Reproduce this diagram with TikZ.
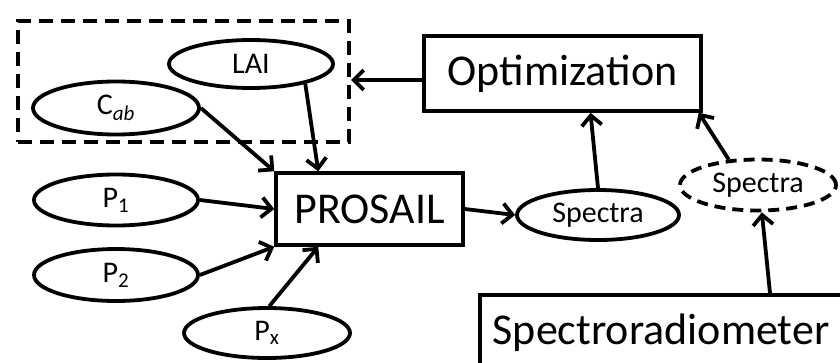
\documentclass[tikz,border=0pt]{standalone}
\usepackage{fontspec}
\setmainfont{Carlito}
\usetikzlibrary{shapes.geometric,arrows.meta}
\tikzset{
  ell/.style={draw, ellipse, line width=3.8pt, inner sep=0pt, font=\fontsize{30}{32}\selectfont},
  dell/.style={ell, dash pattern=on 11pt off 7pt},
  bigbox/.style={draw, rectangle, line width=3.5pt, inner sep=0pt, font=\fontsize{44}{50}\selectfont},
  grpbox/.style={draw, rectangle, line width=4pt, inner sep=0pt, dash pattern=on 14pt off 8pt},
  arr/.style={-{Straight Barb[length=10pt,width=20pt]}, line width=3.8pt},
}
\begin{document}
\begin{tikzpicture}[x=1pt,y=-1pt]
\useasboundingbox (0,0) rectangle (840,362);
\clip (0,0) rectangle (840,362);
% group box
\node[grpbox, minimum width=331pt, minimum height=121pt] (grp) at (183.5,81.5) {};
% ellipses
\node[ell, minimum width=164pt, minimum height=48pt] (lai) at (251,64) {LAI};
\node[ell, minimum width=166pt, minimum height=53pt] (cab) at (116,108) {C\textsubscript{\textit{ab}}};
\node[ell, minimum width=164pt, minimum height=51pt] (p1) at (116,200) {P\textsubscript{1}};
\node[ell, minimum width=164pt, minimum height=52pt] (p2) at (116,275) {P\textsubscript{2}};
\node[ell, minimum width=166pt, minimum height=50pt] (px) at (267,333) {P\textsubscript{x}};
\node[ell, minimum width=162pt, minimum height=50pt] (spec) at (598,215) {Spectra};
\node[dell, minimum width=156pt, minimum height=51pt] (dspec) at (758,185) {Spectra};
% boxes
\node[bigbox, minimum width=187pt, minimum height=72pt] (pro) at (369.5,209) {PROSAIL};
\node[bigbox, minimum width=277pt, minimum height=75pt] (opt) at (562.5,73.5) {Optimization};
\node[bigbox, anchor=north west, text width=400pt, align=left, inner xsep=13pt, minimum height=76pt] (sr) at (478,293) {Spectroradiometer};
% connectors
\draw[arr] ([yshift=-6.5pt]opt.west) -- ([yshift=1.5pt]grp.east);
\draw[arr] (cab.east) -- (pro.north west);
\draw[arr] (lai.-20) -- ([xshift=44pt]pro.north west);
\draw[arr] (p1.east) -- (pro.west);
\draw[arr] (p2.east) -- (pro.south west);
\draw[arr] (px.85) -- ([xshift=44pt]pro.south west);
\draw[arr] (pro.east) -- (spec.west);
\draw[arr] (spec.north) -- ([xshift=28pt]opt.south);
\draw[arr] (dspec.139) -- ([xshift=-4pt]opt.south east);
\draw[arr] ([xshift=292pt]sr.north west) -- (dspec.-82);
\end{tikzpicture}
\end{document}
